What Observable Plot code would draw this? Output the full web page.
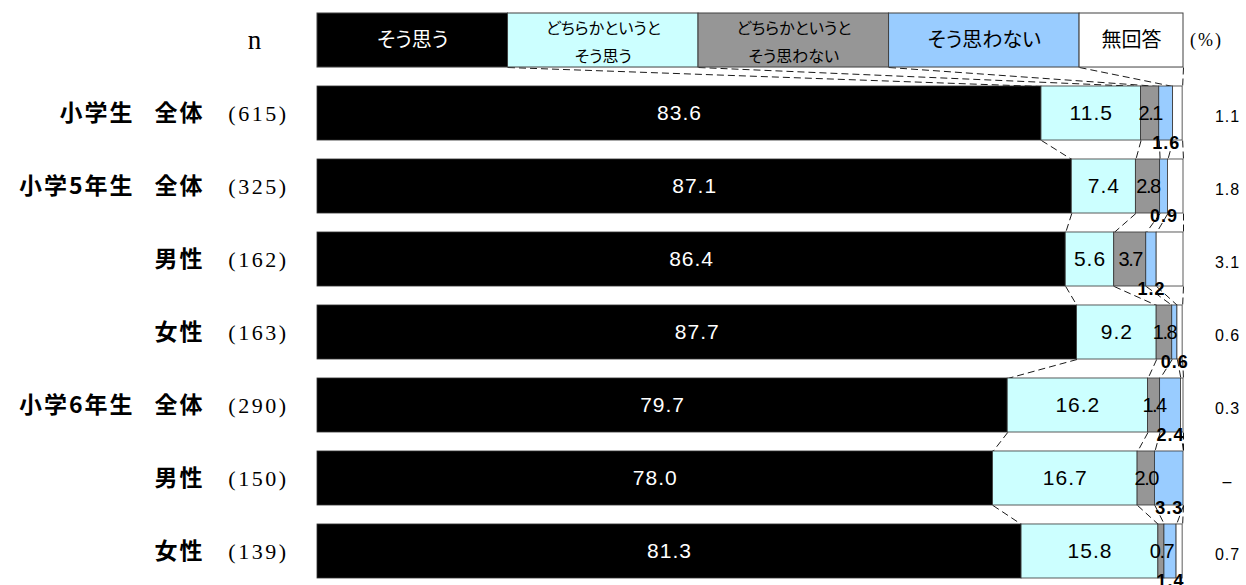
<!DOCTYPE html>
<html><head><meta charset="utf-8">
<script src="https://cdn.jsdelivr.net/npm/d3@7"></script>
<script src="https://cdn.jsdelivr.net/npm/@observablehq/plot@0.6"></script>
<style>
html,body{margin:0;padding:0;background:#fff;}
svg text{font-feature-settings:"palt";}
</style></head>
<body><div id="chart"></div>
<script>
// ---- data ----
const groups = ["小学生", "小学5年生", "", "", "小学6年生", "", ""];
const categories = ["全体", "全体", "男性", "女性", "全体", "男性", "女性"];
const nCounts = [615, 325, 162, 163, 290, 150, 139];
const seriesNames = ["そう思う", "どちらかというと\nそう思う", "どちらかというと\nそう思わない", "そう思わない", "無回答"];
const souOmou = [83.6, 87.1, 86.4, 87.7, 79.7, 78.0, 81.3];
const dochiraSou = [11.5, 7.4, 5.6, 9.2, 16.2, 16.7, 15.8];
const dochiraNot = [2.1, 2.8, 3.7, 1.8, 1.4, 2.0, 0.7];
const souNot = [1.6, 0.9, 1.2, 0.6, 2.4, 3.3, 1.4];
const noAnswer = [1.1, 1.8, 3.1, 0.6, 0.3, null, 0.7];
const unitLabel = "(%)";
const nLabel = "n";

// ---- styles ----
const seriesColors = ["#000000", "#CCFFFF", "#969696", "#99CCFF", "#FFFFFF"];
const JP = "'Noto Sans CJK JP', sans-serif";
const NUM = "'Liberation Sans', Arial, sans-serif";
const SERIF = "'Liberation Serif', 'Times New Roman', serif";
const BAND = 0.74; // bar thickness in row units

const valuesBySeries = [souOmou, dochiraSou, dochiraNot, souNot, noAnswer];
const rows = categories.map((cat, i) => {
  const vals = valuesBySeries.map(a => a[i] ?? 0);
  const bounds = [0, ...d3.cumsum(vals)];
  return {k: i + 1, group: groups[i], cat, n: `(${nCounts[i]})`, vals, bounds,
          na: noAnswer[i] == null ? "–" : noAnswer[i].toFixed(1)};
});
const segments = rows.flatMap(r => r.vals.map((v, s) => ({
  k: r.k, s, v, x1: r.bounds[s], x2: r.bounds[s + 1], label: v.toFixed(1)
}))).filter(d => d.v > 0);

// legend laid out as a header row: four equal cells, a narrow last one
const legendSpan = seriesNames.map((_, s) => s < 4 ? 88 / 4 : 12);
const legendBounds = [0, ...d3.cumsum(legendSpan)];
const legend = seriesNames.map((name, s) => ({name, s, x1: legendBounds[s], x2: legendBounds[s + 1]}));

const levels = [legendBounds, ...rows.map(r => r.bounds)];
const connectors = [];
for (let j = 0; j < levels.length - 1; j++) {
  for (let b = 1; b <= 5; b++) {
    connectors.push({x1: levels[j][b], x2: levels[j + 1][b], y1: j + BAND, y2: j + 1});
  }
}
const tag = name => () => name;

const plot = Plot.plot({
  width: 1246, height: 585,
  marginLeft: 317, marginRight: 63, marginTop: 13, marginBottom: 7,
  x: {domain: [0, 100], range: [317, 1183], axis: null},
  y: {domain: [0, 8 - (1 - BAND)], range: [13, 578], axis: null},
  color: {type: "ordinal", domain: [0, 1, 2, 3, 4], range: seriesColors},
  style: {background: "white", overflow: "visible"},
  marks: [
    Plot.link(connectors, {x1: "x1", x2: "x2", y1: "y1", y2: "y2", stroke: "#000", strokeWidth: 0.9, strokeDasharray: "7,4"}),
    Plot.rect(legend, {x1: "x1", x2: "x2", y1: () => 0, y2: () => BAND, fill: "s", stroke: "#404040", strokeWidth: 1}),
    Plot.rect(segments, {x1: "x1", x2: "x2", y1: d => d.k, y2: d => d.k + BAND, fill: "s", stroke: "#333", strokeWidth: 0.8}),
    // legend texts
    Plot.text(legend.filter(d => d.s === 0), {x: d => (d.x1 + d.x2) / 2, y: () => BAND / 2, text: "name", fill: "white", fontFamily: JP, fontSize: 20}),
    Plot.text(legend.filter(d => d.s === 3 || d.s === 4), {x: d => (d.x1 + d.x2) / 2, y: () => BAND / 2, text: "name", fill: "black", fontFamily: JP, fontSize: 20}),
    Plot.text(legend.filter(d => d.s === 1 || d.s === 2), {x: d => (d.x1 + d.x2) / 2, y: () => BAND / 2, dy: -1, text: "name", fill: "black", fontFamily: JP, fontSize: 16, lineHeight: 1.75}),
    Plot.text([unitLabel], {y: () => BAND / 2, text: d => d, frameAnchor: "right", textAnchor: "middle", dx: 23, fontFamily: SERIF, fontSize: 18, ariaLabel: tag("unit")}),
    Plot.text([nLabel], {y: () => BAND / 2, text: d => d, frameAnchor: "left", textAnchor: "middle", dx: -63, fontFamily: SERIF, fontSize: 27}),
    // left labels
    Plot.text(rows, {y: d => d.k + BAND / 2, text: "group", frameAnchor: "left", textAnchor: "end", dx: -183, fontFamily: JP, fontWeight: "bold", fontSize: 23, ariaLabel: tag("jplabel")}),
    Plot.text(rows, {y: d => d.k + BAND / 2, text: "cat", frameAnchor: "left", textAnchor: "end", dx: -113, fontFamily: JP, fontWeight: "bold", fontSize: 23, ariaLabel: tag("jplabel")}),
    Plot.text(rows, {y: d => d.k + BAND / 2, text: "n", frameAnchor: "left", textAnchor: "end", dx: -29, fontFamily: SERIF, fontSize: 22, ariaLabel: tag("nlabel")}),
    // values
    Plot.text(segments.filter(d => d.s === 0), {x: d => (d.x1 + d.x2) / 2, y: d => d.k + BAND / 2, text: "label", fill: "white", fontFamily: NUM, fontSize: 21, ariaLabel: tag("vals")}),
    Plot.text(segments.filter(d => d.s === 1), {x: d => (d.x1 + d.x2) / 2, y: d => d.k + BAND / 2, text: "label", fill: "black", fontFamily: NUM, fontSize: 21, ariaLabel: tag("vals")}),
    Plot.text(segments.filter(d => d.s === 2), {x: d => (d.x1 + d.x2) / 2, y: d => d.k + BAND / 2, text: "label", fill: "black", fontFamily: NUM, fontSize: 20, ariaLabel: tag("grayvals")}),
    Plot.text(segments.filter(d => d.s === 3), {x: d => (d.x1 + d.x2) / 2, y: d => d.k + BAND, dy: 3, text: "label", fill: "black", fontFamily: NUM, fontWeight: "bold", fontSize: 18, ariaLabel: tag("vals")}),
    Plot.text(rows, {y: d => d.k + BAND / 2, text: "na", frameAnchor: "right", textAnchor: "middle", dx: 44, dy: 3, fill: "black", fontFamily: NUM, fontSize: 16, ariaLabel: tag("smallvals")})
  ]
});
const sel = d3.select(plot);
sel.selectAll('[aria-label="jplabel"]').attr("letter-spacing", "2px");
sel.selectAll('[aria-label="nlabel"]').attr("letter-spacing", "2.5px");
sel.selectAll('[aria-label="unit"]').attr("letter-spacing", "2px");
sel.selectAll('[aria-label="vals"]').attr("letter-spacing", "1px");
sel.selectAll('[aria-label="smallvals"]').attr("letter-spacing", "1px");
sel.selectAll('[aria-label="grayvals"]').attr("letter-spacing", "-1.5px");
document.getElementById("chart").appendChild(plot);
</script>
</body></html>
